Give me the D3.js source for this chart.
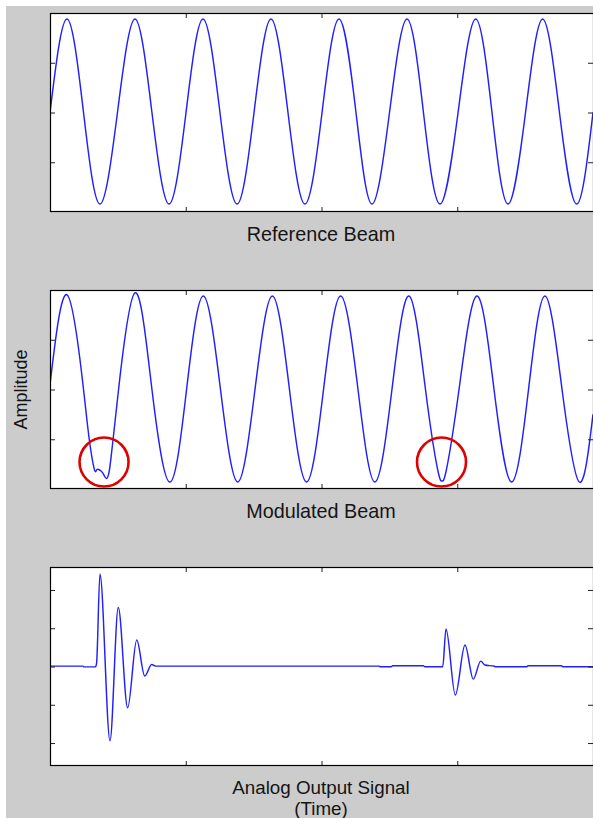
<!DOCTYPE html>
<html><head><meta charset="utf-8">
<script src="https://cdn.jsdelivr.net/npm/d3@7"></script>
<style>
html,body{margin:0;padding:0;background:#fff;}
svg{display:block;}
text{font-family:"Liberation Sans",Arial,sans-serif;fill:#141414;}
</style></head><body>
<svg id="chart" width="593" height="818"></svg>
<script>
// ---------- data ----------
const refTime = [0,0.125,0.247,0.368,0.497,0.626,0.751,0.877,1.002,1.127,1.252,1.378,1.503,1.628,1.753,1.878,
  2.004,2.129,2.254,2.372,2.501,2.630,2.751,2.873,3.006,3.136,3.256,3.374,3.503,3.629,3.753,3.880,4.000];
const refAmp = [0,0.94,0,-0.92,0,0.94,0,-0.92,0,0.94,0,-0.92,0,0.94,0,-0.92,
  0,0.94,0,-0.92,0,0.94,0,-0.92,0,0.94,0,-0.92,0,0.94,0,-0.92,0];

const modTime = [0,0.127,0.247,0.290,0.326,0.346,0.376,0.398,0.416,0.435,0.449,0.464,0.505,0.626,0.751,0.884,
  1.006,1.129,1.256,1.383,1.510,1.638,1.764,1.890,2.015,2.141,2.269,2.393,2.519,2.645,2.766,2.855,2.888,2.921,
  3.013,3.143,3.271,3.401,3.525,3.646,3.772,3.899,4.000];
const modAmp = [0.05,0.95,0,-0.51,-0.80,-0.805,-0.82,-0.86,-0.895,-0.83,-0.69,-0.51,0,0.97,0,-0.93,
  0,0.94,0,-0.93,0,0.94,0,-0.93,0,0.94,0,-0.93,0,0.94,0,-0.80,-0.92,-0.80,
  0,0.94,0,-0.93,0,0.94,0,-0.93,-0.25];

const outTime = [0,0.243,0.250,0.335,0.343,0.368,0.442,0.503,0.572,0.639,0.698,0.749,0.781,2.424,2.431,2.516,2.523,
  2.751,2.759,2.893,2.917,2.986,3.057,3.118,3.173,3.204,3.274,3.282,3.514,3.521,3.768,3.775,4.000];
const outAmp = [0.01,0.01,-0.01,-0.01,0.08,2.42,-1.94,1.54,-1.08,0.69,-0.25,0.05,0.01,0.01,-0.005,-0.005,0.021,
  0.021,-0.005,-0.005,0.98,-0.745,0.56,-0.33,0.14,0.04,0.005,-0.005,-0.005,0.021,0.021,-0.005,-0.005];

const xTicks = [1,2,3];
const beamYTicks = [-0.5,0,0.5];
const outYTicks = [-2,-1,0,1,2];
const panelTitles = ["Reference Beam","Modulated Beam","Analog Output Signal"];
const subTitle = "(Time)";
const yAxisLabel = "Amplitude";
const highlightTime = [0.398,2.884];
const highlightAmp = [-0.729,-0.729];

// ---------- drawing ----------
const svg = d3.select("#chart");
svg.append("rect").attr("x",6).attr("y",6).attr("width",593-6).attr("height",818-6).attr("fill","#cccccc");

const x = d3.scaleLinear().domain([0,4]).range([50,593]);

const panels = [
  {top:13,bottom:212,domain:[-1,1],yTicks:beamYTicks,t:refTime,a:refAmp,curve:d3.curveNatural},
  {top:290,bottom:489,domain:[-1,1],yTicks:beamYTicks,t:modTime,a:modAmp,curve:d3.curveNatural},
  {top:567,bottom:766,domain:[-2.6,2.6],yTicks:outYTicks,t:outTime,a:outAmp,curve:d3.curveMonotoneX}
];

panels.forEach((p,i)=>{
  const y = d3.scaleLinear().domain(p.domain).range([p.bottom,p.top]);
  p.y = y;
  const g = svg.append("g");
  g.append("rect").attr("x",50).attr("y",p.top).attr("width",593-50).attr("height",p.bottom-p.top).attr("fill","#ffffff");

  const clipId = "clip"+i;
  svg.append("clipPath").attr("id",clipId).append("rect")
    .attr("x",50).attr("y",p.top).attr("width",593-50).attr("height",p.bottom-p.top);

  const data = p.t.map((t,k)=>[t,p.a[k]]);
  const line = d3.line().x(d=>x(d[0])).y(d=>y(d[1])).curve(p.curve);
  g.append("path").attr("d",line(data)).attr("fill","none").attr("stroke","#1f1fff")
    .attr("stroke-width",1.45).attr("clip-path",`url(#${clipId})`);

  const styleAxis = sel=>{
    sel.select(".domain").remove();
    sel.selectAll("line").attr("stroke","#222").attr("stroke-width",1);
    sel.selectAll("text").remove();
  };
  g.append("g").attr("transform",`translate(0,${p.bottom})`)
    .call(d3.axisBottom(x).tickValues(xTicks).tickSize(-5).tickFormat("")).call(styleAxis);
  g.append("g").attr("transform",`translate(0,${p.top})`)
    .call(d3.axisTop(x).tickValues(xTicks).tickSize(-5).tickFormat("")).call(styleAxis);
  g.append("g").attr("transform",`translate(50,0)`)
    .call(d3.axisLeft(y).tickValues(p.yTicks).tickSize(-5).tickFormat("")).call(styleAxis);
  g.append("g").attr("transform",`translate(593,0)`)
    .call(d3.axisRight(y).tickValues(p.yTicks).tickSize(-5).tickFormat("")).call(styleAxis);

  g.append("rect").attr("x",50.5).attr("y",p.top+0.5).attr("width",593-50).attr("height",p.bottom-p.top-1)
    .attr("fill","none").attr("stroke","#000").attr("stroke-width",1.2);

  if (i < 2) {
    svg.append("text").attr("x",321).attr("y",p.bottom+29).attr("text-anchor","middle")
      .attr("font-size","19.8px").text(panelTitles[i]);
  } else {
    svg.append("text").attr("x",321).attr("y",p.bottom+27.5).attr("text-anchor","middle")
      .attr("font-size","18.8px").text(panelTitles[i]);
    svg.append("text").attr("x",321).attr("y",p.bottom+49).attr("text-anchor","middle")
      .attr("font-size","18.8px").text(subTitle);
  }
});

svg.append("text").attr("transform",`translate(26.5,${(panels[1].top+panels[1].bottom)/2}) rotate(-90)`)
  .attr("text-anchor","middle").attr("font-size","18px").text(yAxisLabel);

// highlight circles on the modulated beam
highlightTime.forEach((t,k)=>{
  svg.append("circle").attr("cx",x(t)).attr("cy",panels[1].y(highlightAmp[k])).attr("r",24.5)
    .attr("fill","none").attr("stroke","#e00000").attr("stroke-width",2.6);
});
</script>
</body></html>
